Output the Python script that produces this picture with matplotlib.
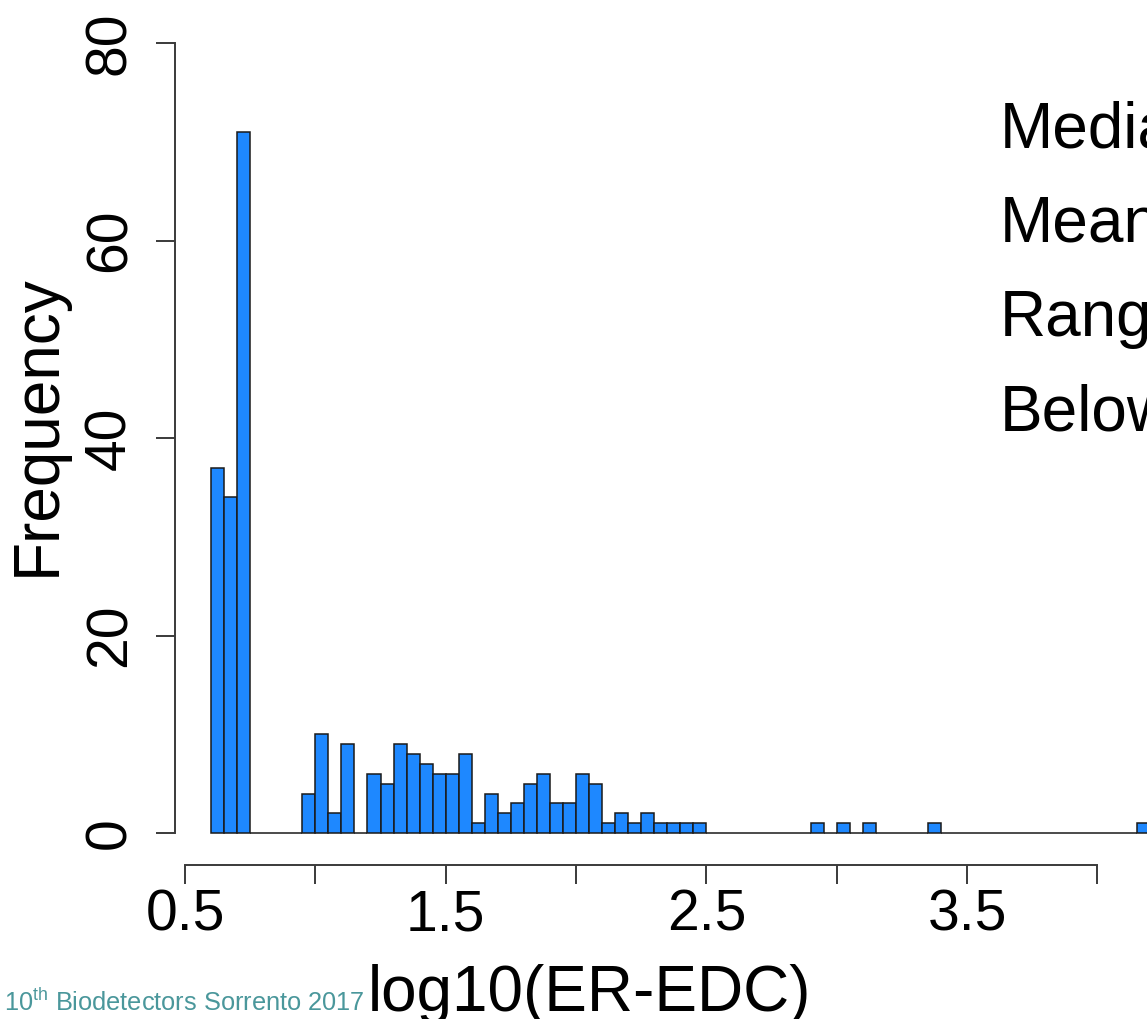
import numpy as np
import matplotlib
matplotlib.use("Agg")
import matplotlib.pyplot as plt

plt.rcParams['font.family'] = ['Liberation Sans', 'DejaVu Sans']
plt.rcParams['mathtext.fontset'] = 'custom'
plt.rcParams['mathtext.rm'] = 'Liberation Sans'

# histogram of log10(ER-EDC), bins of 0.05 starting at 0.6
bin_start = 0.6
bin_width = 0.05
counts = [37, 34, 71, 0, 0, 0, 0,
          4, 10, 2, 9, 0, 6, 5, 9, 8, 7, 6, 6, 8, 1, 4, 2, 3, 5, 6, 3, 3, 6, 5,
          1, 2, 1, 2, 1, 1, 1, 1,
          0, 0, 0, 0, 0, 0, 0, 0,
          1, 0, 1, 0, 1, 0, 0, 0, 0, 1,
          0, 0, 0, 0, 0, 0, 0, 0, 0, 0, 0, 0, 0, 0, 0, 1]
xticks = [0.5, 1.0, 1.5, 2.0, 2.5, 3.0, 3.5, 4.0]
xticklabels = ['0.5', '', '1.5', '', '2.5', '', '3.5', '']
yticks = [0, 20, 40, 60, 80]
stats_labels = ['Median', 'Mean', 'Range', 'Below']
footer = '10$^{\\mathrm{th}}$ Biodetectors Sorrento 2017'

W, H = 1147, 1019
fig = plt.figure(figsize=(W / 100, H / 100), dpi=100)

# axes box in pixels: y spine at x=175, x spine at y=865, top at y=43
ax = fig.add_axes([175 / W, (H - 865) / H, (W - 175) / W, (865 - 43) / H])

lefts = bin_start + bin_width * np.arange(len(counts))
ax.bar(lefts, counts, width=bin_width, align='edge', color='#1e88ff',
       edgecolor='#1a1a1a', linewidth=1.1)

ax.set_xlim(0.5 - 10 / 260.7, 0.5 + (W - 185) / 260.7)
ax.set_ylim(-32 / 9.875, 80)

for s in ['top', 'right']:
    ax.spines[s].set_visible(False)
ax.spines['left'].set_bounds(0, 80)
ax.spines['bottom'].set_bounds(0.5, 4.0)
for s in ['left', 'bottom']:
    ax.spines[s].set_color('#3a3a3a')
    ax.spines[s].set_linewidth(1.4)

ax.set_xticks(xticks)
ax.set_xticklabels(xticklabels)
ax.set_yticks(yticks)
ax.set_yticklabels([str(v) for v in yticks], rotation=90, va='center')
ax.tick_params(axis='both', direction='out', length=14, width=1.4,
               color='#3a3a3a', labelsize=41)
ax.tick_params(axis='x', pad=3)
ax.tick_params(axis='y', pad=13)

fig.text(38 / W, 1 - 425 / H, 'Frequency', rotation=90, fontsize=46,
         ha='center', va='center')
fig.text(589 / W, 1 - 1011 / H, 'log10(ER-EDC)', fontsize=46,
         ha='center', va='baseline')

for i, lab in enumerate(stats_labels):
    fig.text(1000 / W, 1 - (147 + 94.5 * i) / H, lab, fontsize=46,
             ha='left', va='baseline')

fig.text(365 / W, 1 - 1011 / H, footer, fontsize=18.3, color='#4a979b',
         ha='right', va='baseline')

fig.savefig('out.png', dpi=100)
